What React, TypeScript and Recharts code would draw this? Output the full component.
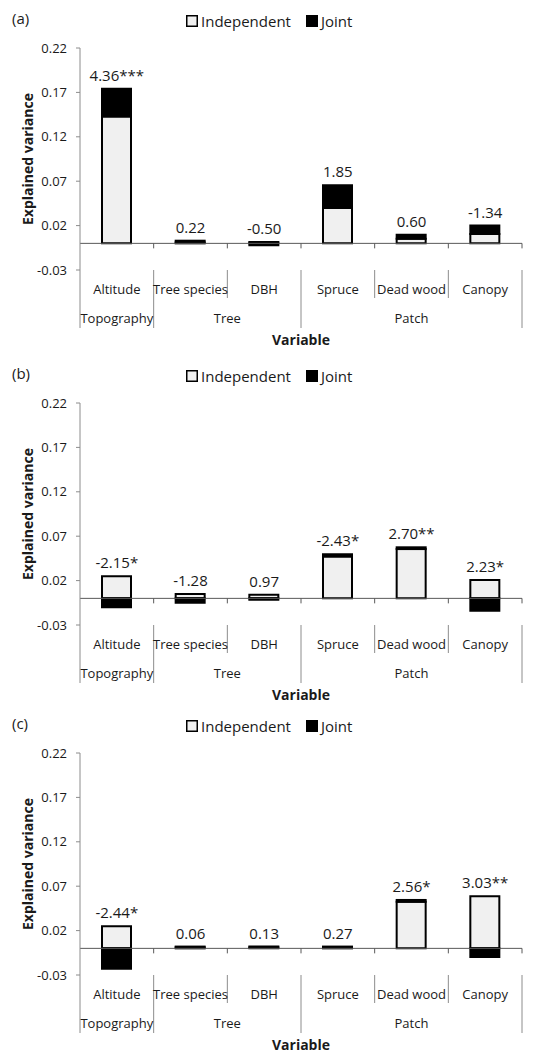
import { ComposedChart, Bar, Line, XAxis, YAxis, ReferenceLine, LabelList } from 'recharts';

const categories = ['Altitude', 'Tree species', 'DBH', 'Spruce', 'Dead wood', 'Canopy'];
const groupNames = ['Topography', 'Tree', 'Patch'];
const groupSpans = [1, 2, 3];
const yTicks = [-0.03, 0.02, 0.07, 0.12, 0.17, 0.22];

// (a)
const independentA = [0.143, 0.001, 0.0015, 0.0399, 0.0053, 0.0106];
const jointA = [0.031, 0.002, -0.002, 0.0255, 0.0045, 0.0094];
const labelsA = ['4.36***', '0.22', '-0.50', '1.85', '0.60', '-1.34'];

// (b)
const independentB = [0.025, 0.005, 0.004, 0.0472, 0.0555, 0.0206];
const jointB = [-0.01, -0.005, -0.0015, 0.0025, 0.002, -0.014];
const labelsB = ['-2.15*', '-1.28', '0.97', '-2.43*', '2.70**', '2.23*'];

// (c)
const independentC = [0.025, 0.001, 0.001, 0.001, 0.0525, 0.0587];
const jointC = [-0.023, 0.001, 0.001, 0.001, 0.002, -0.0097];
const labelsC = ['-2.44*', '0.06', '0.13', '0.27', '2.56*', '3.03**'];

const FONT = '"Open Sans", sans-serif';
const TEXT = '#1a1a1a';
const AXIS = '#8c8c8c';
const IND_FILL = '#f0f0f0';

const panels = [
  { tag: '(a)', top: 0, independent: independentA, joint: jointA, labels: labelsA },
  { tag: '(b)', top: 355, independent: independentB, joint: jointB, labels: labelsB },
  { tag: '(c)', top: 705, independent: independentC, joint: jointC, labels: labelsC },
];

// zero line with the category tick marks hanging below it
const ZeroAxis = (props: any) => {
  const { x1, x2, y1 } = props;
  const bw = (x2 - x1) / categories.length;
  return (
    <g>
      <line x1={x1} x2={x2} y1={y1} y2={y1} stroke="#595959" strokeWidth={1} />
      {categories.map((_, i) => (
        <line key={i} x1={x1 + (i + 1) * bw} x2={x1 + (i + 1) * bw} y1={y1} y2={y1 + 5} stroke="#595959" strokeWidth={1} />
      ))}
    </g>
  );
};

// multi-level category axis below the plot: separators, group names, title
const GroupAxis = (props: any) => {
  const { x1, x2, y1 } = props;
  const bw = (x2 - x1) / categories.length;
  const bounds = [0];
  groupSpans.forEach((s) => bounds.push(bounds[bounds.length - 1] + s));
  return (
    <g>
      {Array.from({ length: categories.length + 1 }, (_, i) => {
        const full = bounds.includes(i);
        const x = x1 + i * bw;
        return <line key={i} x1={x} x2={x} y1={y1} y2={y1 + (full ? 58 : 28)} stroke={AXIS} strokeWidth={1} />;
      })}
      {groupNames.map((g, k) => (
        <text
          key={g}
          x={x1 + ((bounds[k] + bounds[k + 1]) / 2) * bw}
          y={y1 + 48}
          textAnchor="middle"
          dominantBaseline="central"
          fontSize={13}
          fontFamily={FONT}
          fill={TEXT}
        >
          {g}
        </text>
      ))}
      <text
        x={(x1 + x2) / 2}
        y={y1 + 69}
        textAnchor="middle"
        dominantBaseline="central"
        fontSize={14}
        fontWeight="bold"
        fontFamily={FONT}
        fill={TEXT}
      >
        Variable
      </text>
    </g>
  );
};

const CategoryTick = (props: any) => {
  const { x, y, payload } = props;
  return (
    <text x={x} y={y + 19} textAnchor="middle" dominantBaseline="central" fontSize={13} fontFamily={FONT} fill={TEXT}>
      {payload.value}
    </text>
  );
};

const YTitle = (props: any) => {
  const { viewBox } = props;
  const cx = viewBox.x + 27;
  const cy = viewBox.y + viewBox.height / 2;
  return (
    <text
      x={cx}
      y={cy}
      transform={`rotate(-90 ${cx} ${cy})`}
      textAnchor="middle"
      dominantBaseline="central"
      fontSize={14}
      fontWeight="bold"
      fontFamily={FONT}
      fill={TEXT}
    >
      Explained variance
    </text>
  );
};

const Swatch = ({ fill, border }: { fill: string; border?: boolean }) => (
  <svg width={12} height={12} style={{ display: 'block', flex: 'none' }}>
    <rect
      x={border ? 0.75 : 0}
      y={border ? 0.75 : 0}
      width={border ? 10.5 : 12}
      height={border ? 10.5 : 12}
      fill={fill}
      stroke={border ? '#000' : 'none'}
      strokeWidth={1.5}
    />
  </svg>
);

const Panel = ({ tag, top, independent, joint, labels }: any) => {
  const data = categories.map((c, i) => ({
    category: c,
    independent: independent[i],
    joint: joint[i],
    labelY: independent[i] + Math.max(joint[i], 0),
    label: labels[i],
  }));

  return (
    <div style={{ position: 'absolute', left: 0, top, width: 550, height: 356 }}>
      <div style={{ position: 'absolute', left: 12, top: 8, fontFamily: FONT, fontSize: 15, lineHeight: '20px', color: TEXT }}>
        {tag}
      </div>
      <div
        style={{
          position: 'absolute',
          left: 186,
          top: 11,
          display: 'flex',
          alignItems: 'center',
          fontFamily: FONT,
          fontSize: 15,
          lineHeight: '20px',
          color: TEXT,
          zIndex: 2,
        }}
      >
        <Swatch fill={IND_FILL} border />
        <span style={{ marginLeft: 3 }}>Independent</span>
        <span style={{ width: 15 }} />
        <Swatch fill="#000" />
        <span style={{ marginLeft: 3 }}>Joint</span>
      </div>
      <ComposedChart
        width={550}
        height={356}
        data={data}
        stackOffset="sign"
        margin={{ top: 48, right: 28, bottom: 9, left: 0 }}
        style={{ overflow: 'visible' }}
      >
        <XAxis
          dataKey="category"
          height={77}
          axisLine={false}
          tickLine={false}
          tickSize={0}
          tickMargin={0}
          interval={0}
          tick={<CategoryTick />}
        />
        <YAxis
          width={80}
          domain={[-0.03, 0.22]}
          ticks={yTicks}
          allowDataOverflow
          tickFormatter={(v: number) => v.toFixed(2)}
          tick={{ fontSize: 13, fill: TEXT, fontFamily: FONT }}
          tickSize={4}
          tickMargin={9}
          stroke={AXIS}
          label={{ content: YTitle }}
        />
        <Bar dataKey="independent" name="Independent" stackId="s" fill={IND_FILL} stroke="#000" strokeWidth={2} barSize={29} isAnimationActive={false} />
        <Bar dataKey="joint" name="Joint" stackId="s" fill="#000" stroke="#000" strokeWidth={2} barSize={29} isAnimationActive={false} />
        <Line dataKey="labelY" stroke="none" dot={false} activeDot={false} legendType="none" isAnimationActive={false}>
          <LabelList dataKey="label" position="top" offset={8} fontSize={15} fill={TEXT} fontFamily={FONT} />
        </Line>
        <ReferenceLine y={0} shape={ZeroAxis} ifOverflow="visible" />
        <ReferenceLine y={-0.03} shape={GroupAxis} ifOverflow="visible" />
      </ComposedChart>
    </div>
  );
}

export default function App() {
  return (
    <div style={{ position: 'absolute', left: 0, top: 0, width: 550, height: 1052, background: '#fff', overflow: 'hidden' }}>
      <style>{'body{margin:0}'}</style>
      {panels.map((p) => (
        <Panel key={p.tag} {...p} />
      ))}
    </div>
  );
}
